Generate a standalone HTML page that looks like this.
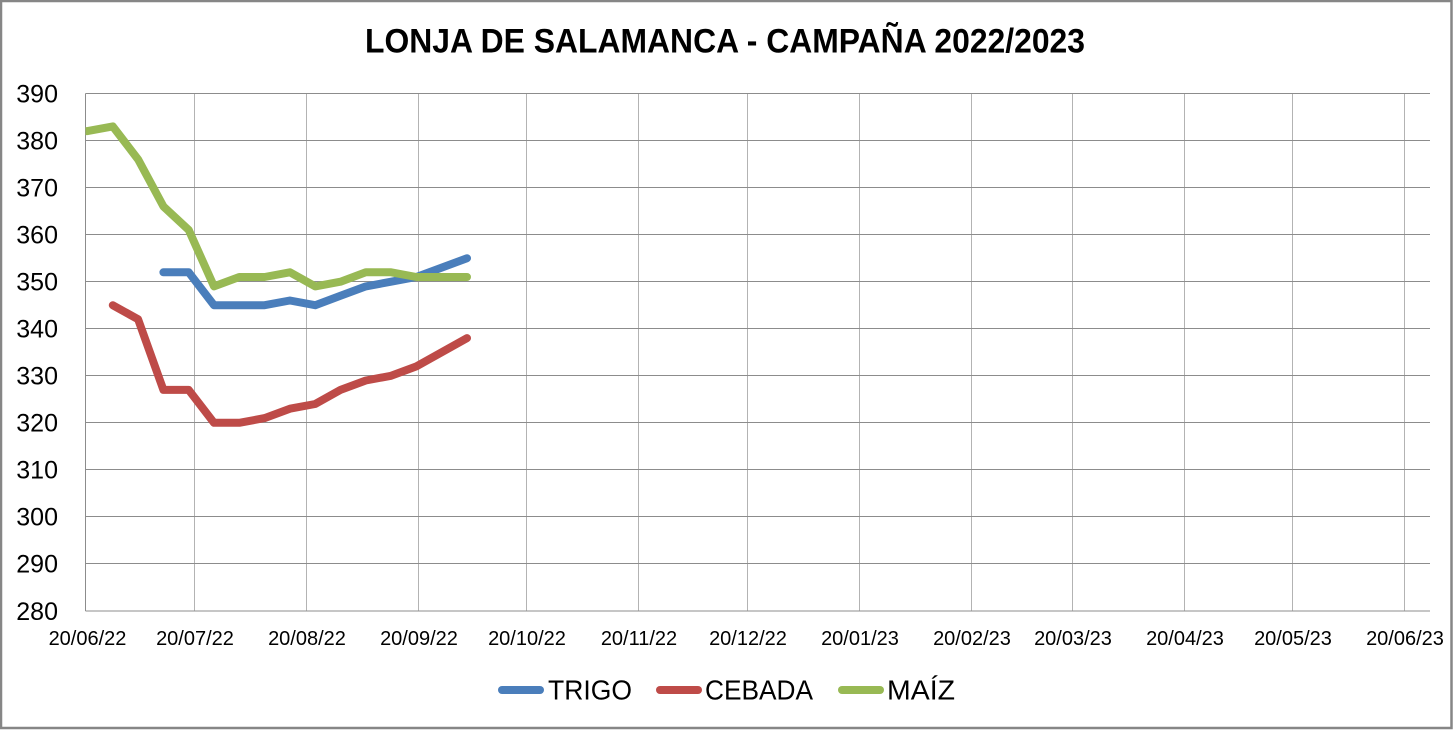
<!DOCTYPE html>
<html>
<head>
<meta charset="utf-8">
<style>
  html,body{margin:0;padding:0;background:#fff;}
  svg{display:block;}
  text{font-family:"Liberation Sans", Arial, sans-serif;fill:#000;}
</style>
</head>
<body>
<svg width="1453" height="730" viewBox="0 0 1453 730" xmlns="http://www.w3.org/2000/svg">
  <rect x="0" y="0" width="1453" height="730" fill="#fff"/>
  <!-- outer border -->
  <rect x="1" y="1" width="1450.5" height="727" fill="none" stroke="#868686" stroke-width="2.5"/>

  <!-- title -->
  <text x="365" y="52.5" font-size="34" font-weight="bold" textLength="720" lengthAdjust="spacingAndGlyphs">LONJA DE SALAMANCA - CAMPAÑA 2022/2023</text>

  <!-- vertical gridlines -->
  <g stroke="#B3B3B3" stroke-width="1">
    <line x1="194.5" y1="93.5" x2="194.5" y2="611"/>
    <line x1="306.5" y1="93.5" x2="306.5" y2="611"/>
    <line x1="418.5" y1="93.5" x2="418.5" y2="611"/>
    <line x1="526.5" y1="93.5" x2="526.5" y2="611"/>
    <line x1="638.5" y1="93.5" x2="638.5" y2="611"/>
    <line x1="747.5" y1="93.5" x2="747.5" y2="611"/>
    <line x1="859.5" y1="93.5" x2="859.5" y2="611"/>
    <line x1="971.5" y1="93.5" x2="971.5" y2="611"/>
    <line x1="1072.5" y1="93.5" x2="1072.5" y2="611"/>
    <line x1="1184.5" y1="93.5" x2="1184.5" y2="611"/>
    <line x1="1292.5" y1="93.5" x2="1292.5" y2="611"/>
    <line x1="1404.5" y1="93.5" x2="1404.5" y2="611"/>
  </g>
  <!-- horizontal gridlines -->
  <g stroke="#8C8C8C" stroke-width="1">
    <line x1="85.5" y1="93.5" x2="1430" y2="93.5"/>
    <line x1="85.5" y1="140.5" x2="1430" y2="140.5"/>
    <line x1="85.5" y1="187.5" x2="1430" y2="187.5"/>
    <line x1="85.5" y1="234.5" x2="1430" y2="234.5"/>
    <line x1="85.5" y1="281.5" x2="1430" y2="281.5"/>
    <line x1="85.5" y1="328.5" x2="1430" y2="328.5"/>
    <line x1="85.5" y1="375.5" x2="1430" y2="375.5"/>
    <line x1="85.5" y1="422.5" x2="1430" y2="422.5"/>
    <line x1="85.5" y1="469.5" x2="1430" y2="469.5"/>
    <line x1="85.5" y1="516.5" x2="1430" y2="516.5"/>
    <line x1="85.5" y1="563.5" x2="1430" y2="563.5"/>
    <line x1="85.5" y1="611" x2="1430" y2="611"/>
  </g>
  <!-- left axis -->
  <line x1="85.5" y1="93.5" x2="85.5" y2="611" stroke="#8C8C8C" stroke-width="1"/>

  <!-- y labels -->
  <g font-size="25" text-anchor="end">
    <text x="58" y="102.5">390</text>
    <text x="58" y="149.5">380</text>
    <text x="58" y="196.5">370</text>
    <text x="58" y="243.5">360</text>
    <text x="58" y="290.5">350</text>
    <text x="58" y="337.5">340</text>
    <text x="58" y="384.5">330</text>
    <text x="58" y="431.5">320</text>
    <text x="58" y="478.5">310</text>
    <text x="58" y="525.5">300</text>
    <text x="58" y="572.5">290</text>
    <text x="58" y="620">280</text>
  </g>

  <!-- x labels -->
  <g font-size="20" text-anchor="middle">
    <text x="87.5" y="645">20/06/22</text>
    <text x="195" y="645">20/07/22</text>
    <text x="307" y="645">20/08/22</text>
    <text x="419" y="645">20/09/22</text>
    <text x="527" y="645">20/10/22</text>
    <text x="639" y="645">20/11/22</text>
    <text x="748" y="645">20/12/22</text>
    <text x="860" y="645">20/01/23</text>
    <text x="972" y="645">20/02/23</text>
    <text x="1073" y="645">20/03/23</text>
    <text x="1185" y="645">20/04/23</text>
    <text x="1293" y="645">20/05/23</text>
    <text x="1405" y="645">20/06/23</text>
  </g>

  <defs>
    <clipPath id="plot"><rect x="85.5" y="60" width="1345" height="560"/></clipPath>
  </defs>

  <g clip-path="url(#plot)" fill="none" stroke-width="8" stroke-linejoin="round" stroke-linecap="round">
    <!-- CEBADA -->
    <polyline stroke="#BE4B48" points="112.8,305.2 138.1,319.3 163.4,389.9 188.7,389.9 214,422.8 239.3,422.8 264.6,418.1 289.9,408.7 315.2,404.0 340.5,389.9 365.8,380.5 391.1,375.8 416.4,366.4 441.7,352.2 467,338.1"/>
    <!-- TRIGO -->
    <polyline stroke="#4A7EBB" points="163.4,272.3 188.7,272.3 214,305.2 239.3,305.2 264.6,305.2 289.9,300.5 315.2,305.2 340.5,295.8 365.8,286.4 391.1,281.7 416.4,277.0 441.7,267.6 467,258.2"/>
    <!-- MAÍZ -->
    <polyline stroke="#98B954" points="80,131.1 87.5,131.1 112.8,126.4 138.1,159.4 163.4,206.4 188.7,229.9 214,286.4 239.3,277.0 264.6,277.0 289.9,272.3 315.2,286.4 340.5,281.7 365.8,272.3 391.1,272.3 416.4,277.0 441.7,277.0 467,277.0"/>
  </g>

  <!-- legend -->
  <g stroke-width="8" stroke-linecap="round">
    <line x1="502" y1="690" x2="540" y2="690" stroke="#4A7EBB"/>
    <line x1="660" y1="690" x2="698" y2="690" stroke="#BE4B48"/>
    <line x1="842" y1="690" x2="880" y2="690" stroke="#98B954"/>
  </g>
  <g font-size="28">
    <text x="548" y="699.5" textLength="84" lengthAdjust="spacingAndGlyphs">TRIGO</text>
    <text x="705" y="699.5" textLength="108" lengthAdjust="spacingAndGlyphs">CEBADA</text>
    <text x="887" y="699.5" textLength="68" lengthAdjust="spacingAndGlyphs">MAÍZ</text>
  </g>
</svg>
</body>
</html>
